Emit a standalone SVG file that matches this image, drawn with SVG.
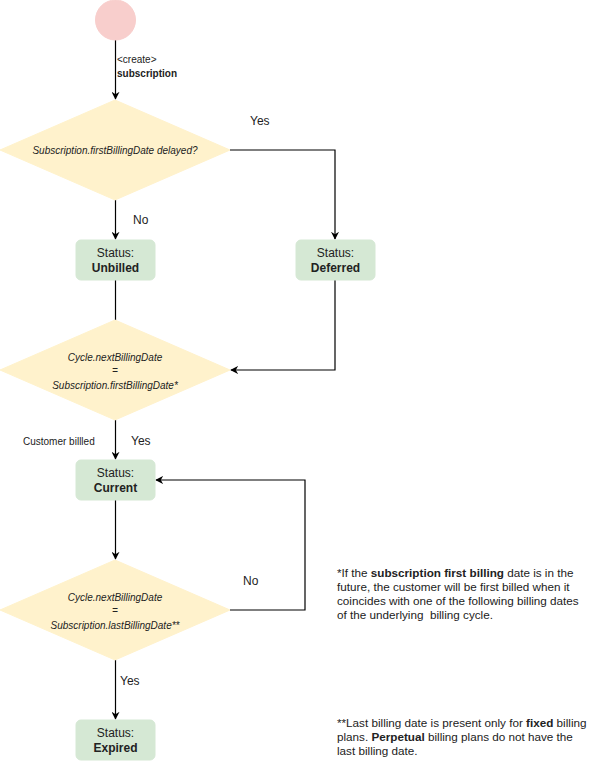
<svg xmlns="http://www.w3.org/2000/svg" width="596" height="761" viewBox="0 0 596 761">
<style>
text{font-family:"Liberation Sans",Arial,sans-serif;fill:#000}
.box{fill:#d5e8d4;stroke:#d5e8d4}
.dia{fill:#fff2cc;stroke:#fff2cc}
.st{font-size:12px;text-anchor:middle;fill:#222}
.b{font-weight:bold}
.dt{font-size:10px;font-style:italic;text-anchor:middle;fill:#222}
.lbl{font-size:12px;fill:#222}
.sm{font-size:10px;fill:#222}
.note{font-size:11.7px;fill:#222}
.edge{fill:none;stroke:#000;stroke-width:1.2}
</style>
<defs>
<marker id="arr" viewBox="0 0 10 10" refX="9" refY="5" markerWidth="8" markerHeight="8" markerUnits="userSpaceOnUse" orient="auto">
<path d="M0,0 L10,5 L0,10 L3,5 Z" fill="#000"/>
</marker>
</defs>
<g id="connectors">
<path class="edge" d="M115.5,40 V99" marker-end="url(#arr)"/>
<path class="edge" d="M230,150 H335 V239" marker-end="url(#arr)"/>
<path class="edge" d="M115.5,200 V239" marker-end="url(#arr)"/>
<path class="edge" d="M115.5,280 V320"/>
<path class="edge" d="M335,280 V370 H231" marker-end="url(#arr)"/>
<path class="edge" d="M115.5,420 V459" marker-end="url(#arr)"/>
<path class="edge" d="M115.5,500 V559" marker-end="url(#arr)"/>
<path class="edge" d="M230,610 H305 V480 H156" marker-end="url(#arr)"/>
<path class="edge" d="M115.5,660 V719" marker-end="url(#arr)"/>
<text class="sm" x="117" y="63">&lt;create&gt;</text>
<text class="sm b" x="117" y="77">subscription</text>
<text class="lbl" x="250" y="125">Yes</text>
<text class="lbl" x="133" y="224">No</text>
<text class="sm" x="23" y="445">Customer billled</text>
<text class="lbl" x="131" y="445">Yes</text>
<text class="lbl" x="243" y="585">No</text>
<text class="lbl" x="120" y="685">Yes</text>
</g>
<g id="start"><circle cx="115.5" cy="20" r="20" fill="#f8cecc" stroke="#f8cecc"/></g>
<g id="d1">
<polygon class="dia" points="115,100 230,150 115,200 0,150"/>
<text class="dt" x="115" y="154">Subscription.firstBillingDate delayed?</text>
</g>
<g id="unbilled">
<rect class="box" x="76" y="240" width="79" height="40" rx="5"/>
<text class="st" x="115.5" y="257">Status:</text>
<text class="st b" x="115.5" y="272">Unbilled</text>
</g>
<g id="deferred">
<rect class="box" x="296" y="240" width="79" height="40" rx="5"/>
<text class="st" x="335.5" y="257">Status:</text>
<text class="st b" x="335.5" y="272">Deferred</text>
</g>
<g id="d2">
<polygon class="dia" points="115,320 230,370 115,420 0,370"/>
<text class="dt" x="115" y="361">Cycle.nextBillingDate</text>
<text class="dt" x="115" y="374">=</text>
<text class="dt" x="115" y="389">Subscription.firstBillingDate*</text>
</g>
<g id="current">
<rect class="box" x="76" y="460" width="79" height="40" rx="5"/>
<text class="st" x="115.5" y="477">Status:</text>
<text class="st b" x="115.5" y="492">Current</text>
</g>
<g id="d3">
<polygon class="dia" points="115,560 230,610 115,660 0,610"/>
<text class="dt" x="115" y="601">Cycle.nextBillingDate</text>
<text class="dt" x="115" y="614">=</text>
<text class="dt" x="115" y="629">Subscription.lastBillingDate**</text>
</g>
<g id="expired">
<rect class="box" x="76" y="720" width="79" height="40" rx="5"/>
<text class="st" x="115.5" y="737">Status:</text>
<text class="st b" x="115.5" y="752">Expired</text>
</g>
<g id="note1">
<text class="note" x="337" y="577">*If the <tspan class="b">subscription first billing</tspan> date is in the</text>
<text class="note" x="337" y="591">future, the customer will be first billed when it</text>
<text class="note" x="337" y="605">coincides with one of the following billing dates</text>
<text class="note" x="337" y="619" xml:space="preserve">of the underlying  billing cycle.</text>
</g>
<g id="note2">
<text class="note" x="337" y="727">**Last billing date is present only for <tspan class="b">fixed</tspan> billing</text>
<text class="note" x="337" y="741">plans. <tspan class="b">Perpetual</tspan> billing plans do not have the</text>
<text class="note" x="337" y="755">last billing date.</text>
</g>
</svg>
